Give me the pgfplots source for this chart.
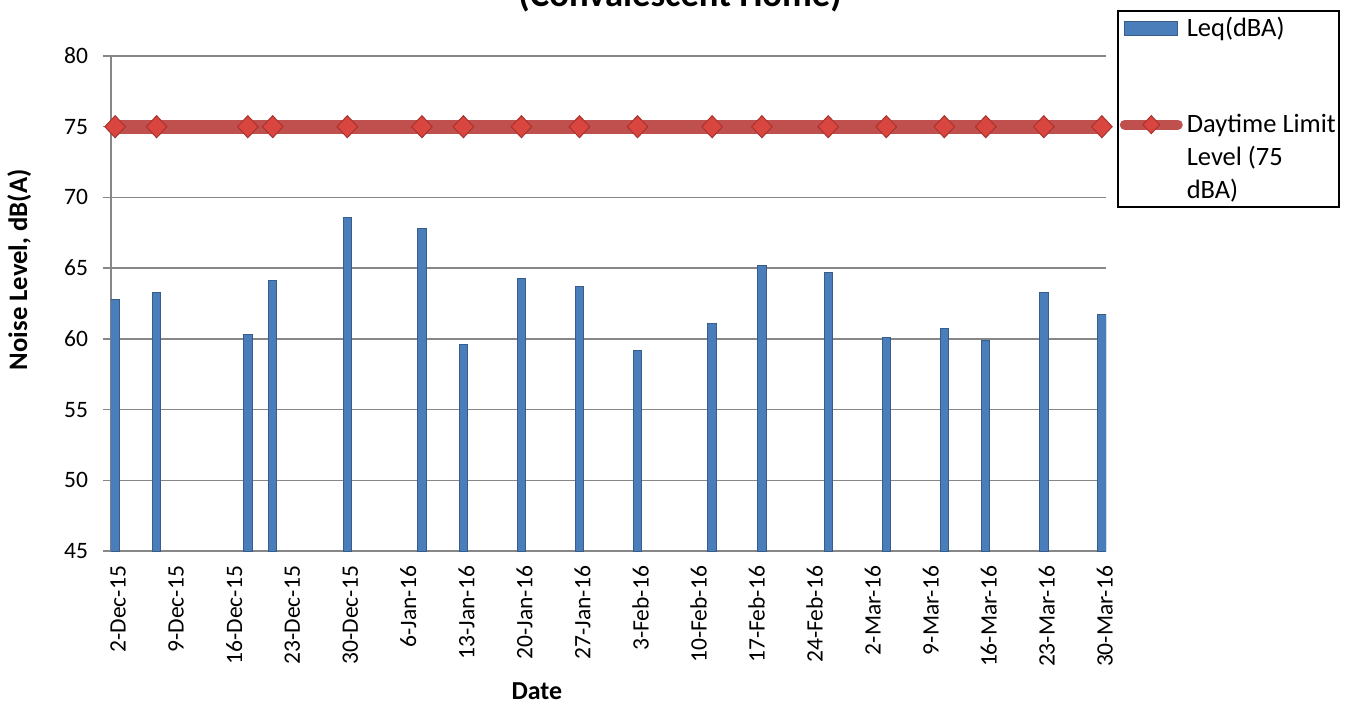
\documentclass[border=0pt]{standalone}
\usepackage{fontspec}
\setmainfont{Carlito}
\usepackage{pgfplots}
\pgfplotsset{compat=1.18}

\definecolor{barblue}{HTML}{4A7EBB}
\definecolor{baredge}{HTML}{385D8A}
\definecolor{limitred}{HTML}{C0504D}
\definecolor{markred}{HTML}{D9453F}
\definecolor{markedge}{HTML}{A8332F}
\definecolor{gridgray}{HTML}{878787}

\pgfplotsset{
    barleg/.style={legend image code/.code={\draw[##1] (2bp,0.5bp) rectangle (28.5bp,7.5bp);}},
    lineleg/.style={legend image code/.code={\draw[##1, line width=5bp, mark repeat=2, mark phase=2, mark size=4.5bp]
        plot coordinates {(2bp,4bp) (15.25bp,4bp) (28.5bp,4bp)};}},
}

\begin{document}
\begin{tikzpicture}
\begin{axis}[
    name=ax,
    width=497.5bp, height=247.5bp, scale only axis,
    xmin=-0.5, xmax=119.5, ymin=45, ymax=80,
    axis x line*=bottom, axis y line*=left,
    axis line style={draw=gridgray, line width=0.75bp},
    ymajorgrids, grid style={draw=gridgray, line width=0.75bp},
    clip mode=individual,
    ytick={45,50,...,80},
    xtick={0,7,...,119},
    xticklabels={2-Dec-15,9-Dec-15,16-Dec-15,23-Dec-15,30-Dec-15,6-Jan-16,13-Jan-16,20-Jan-16,27-Jan-16,3-Feb-16,10-Feb-16,17-Feb-16,24-Feb-16,2-Mar-16,9-Mar-16,16-Mar-16,23-Mar-16,30-Mar-16},
    tick align=outside,
    major tick length=4bp,
    x tick style={draw=none},
    y tick style={draw=gridgray, line width=0.75bp},
    tick label style={font=\fontsize{11.8}{13}\selectfont},
    /pgf/number format/assume math mode=true,
    x tick label style={rotate=90, anchor=east, yshift=-1.5bp},
    y tick label style={xshift=-4bp},
    every axis title shift=0pt,
    title={(Convalescent Home)},
    title style={at={(rel axis cs:0.572,1.099)}, anchor=base, font=\bfseries\fontsize{18.4}{22}\selectfont},
    xlabel={Date},
    xlabel style={at={(rel axis cs:0.428,-0.301)}, anchor=base, font=\bfseries\fontsize{13}{15}\selectfont},
    ylabel={Noise Level, dB(A)},
    ylabel style={at={(rel axis cs:-0.0844,0.568)}, anchor=base, font=\bfseries\fontsize{13.4}{15}\selectfont},
    legend style={at={(rel axis cs:1.0111,1.0929)}, anchor=north west,
        draw=black, line width=0.75bp, inner xsep=1bp, inner ysep=2.5bp,
        font=\fontsize{13.3}{16.5}\selectfont,
        cells={anchor=base west}, nodes={inner sep=0.75bp},
        row sep=33.5bp, column sep=1.5bp},
]
\addplot[ybar, bar width=4.2bp, bar shift=0pt, fill=barblue, draw=baredge, line width=0.5bp, barleg]
    coordinates {
    (0,62.8) (5,63.3) (16,60.3) (19,64.1) (28,68.6) (37,67.8)
    (42,59.6) (49,64.3) (56,63.7) (63,59.2) (72,61.1) (78,65.2)
    (86,64.7) (93,60.1) (100,60.7) (105,59.9) (112,63.3) (119,61.7)
    };
\addlegendentry[inner xsep=0.5bp]{Leq(dBA)}
\addplot[draw=limitred, line width=6.85bp, line cap=round,
    mark=diamond*, mark size=5.5bp,
    mark options={fill=markred, draw=markedge, line width=0.5bp, xscale=1.25},
    lineleg]
    coordinates {
    (0,75) (5,75) (16,75) (19,75) (28,75) (37,75)
    (42,75) (49,75) (56,75) (63,75) (72,75) (78,75)
    (86,75) (93,75) (100,75) (105,75) (112,75) (119,75)
    };
\addlegendentry[inner xsep=0.5bp, text depth=34bp]{\begin{tabular}[t]{@{}l@{}}Daytime Limit\\Level (75\\dBA)\end{tabular}}
\end{axis}
\pgfresetboundingbox
\path[use as bounding box] (ax.south west) ++(-55.5bp,-79bp) rectangle ++(674bp,354.5bp);
\end{tikzpicture}
\end{document}
